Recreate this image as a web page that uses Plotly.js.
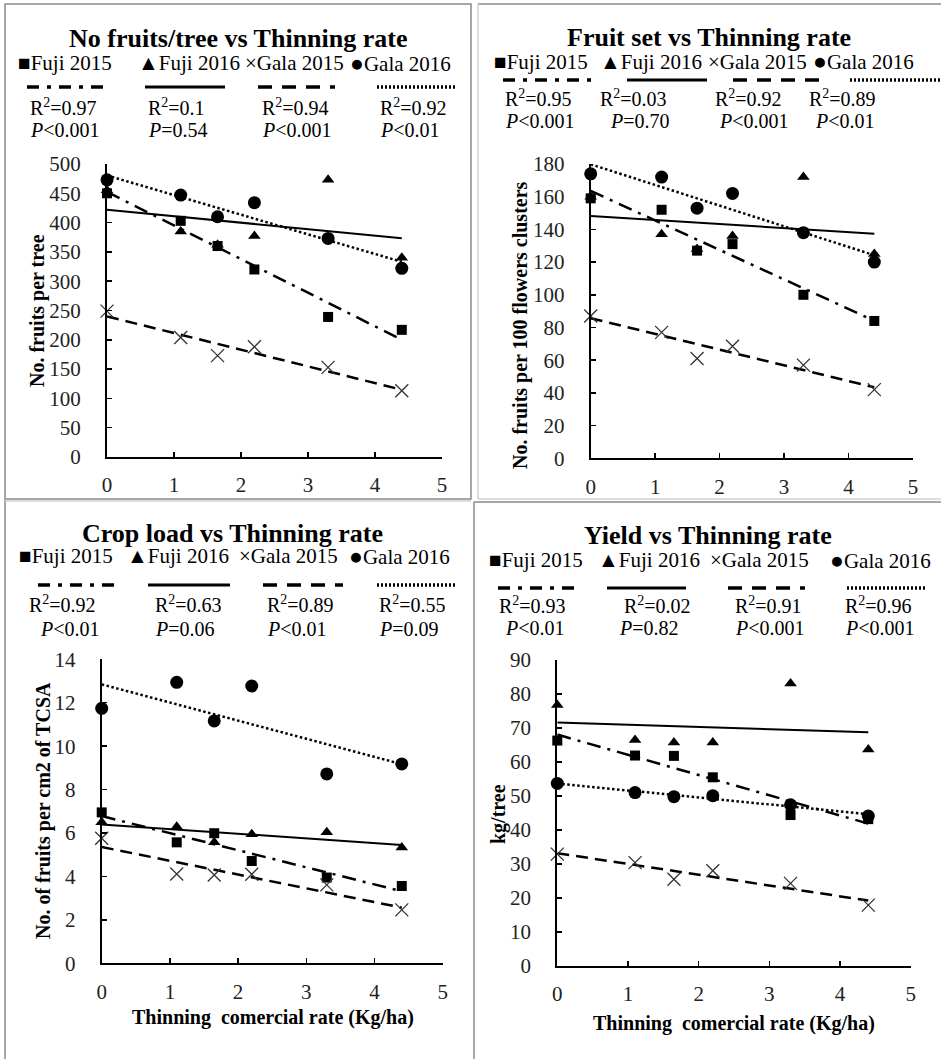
<!DOCTYPE html>
<html><head><meta charset="utf-8">
<script src="https://cdn.plot.ly/plotly-3.0.1.min.js"></script>
<style>html,body{margin:0;padding:0;background:#fff}#chart{width:941px;height:1059px}</style>
</head><body><div id="chart"></div>
<script>
// ---------- DATA ----------
const rates = [0, 1.1, 1.65, 2.2, 3.3, 4.4];
const seriesNames = ["Fuji 2015", "Fuji 2016", "Gala 2015", "Gala 2016"];
const panelTitles = ["No fruits/tree vs Thinning rate", "Fruit set vs Thinning rate", "Crop load vs Thinning rate", "Yield vs Thinning rate"];
const yTitles = ["No. fruits per tree", "No. fruits per 100 flowers clusters", "No. of fruits per cm2 of TCSA", "kg/tree"];
const xTitle = "Thinning  comercial rate (Kg/ha)";
const yMax = [500, 180, 14, 90];
const yStep = [50, 20, 2, 10];

// Panel 1: No fruits per tree
const fruitsFuji2015 = [450, 403, 360, 320, 239, 217];
const fruitsFuji2016 = [455, 385, 362, 377, 473, 340];
const fruitsGala2015 = [249, 204, 173, 188, 153, 113];
const fruitsGala2016 = [473, 447, 410, 434, 373, 322];
// Panel 2: fruit set
const setFuji2015 = [159, 152, 127, 131, 100, 84];
const setFuji2016 = [160, 137, 128, 136, 172, 125];
const setGala2015 = [87, 77, 61, 68.5, 57, 42];
const setGala2016 = [174, 172, 153, 162, 138, 120];
// Panel 3: crop load
const loadFuji2015 = [6.95, 5.57, 5.99, 4.71, 3.95, 3.56];
const loadFuji2016 = [6.49, 6.29, 5.57, 5.94, 6.03, 5.33];
const loadGala2015 = [5.76, 4.11, 4.07, 4.10, 3.61, 2.46];
const loadGala2016 = [11.74, 12.94, 11.16, 12.77, 8.72, 9.18];
// Panel 4: yield
const yieldFuji2015 = [66.3, 61.9, 61.8, 55.5, 44.4, 43.2];
const yieldFuji2016 = [76.8, 66.5, 65.7, 65.7, 83.1, 63.7];
const yieldGala2015 = [32.9, 30.4, 25.5, 28.0, 24.3, 17.9];
const yieldGala2016 = [53.7, 51.0, 49.8, 50.1, 47.4, 44.1];

// Statistics labels
const r2Fruits = ["0.97", "0.1", "0.94", "0.92"];
const pFruits = ["<0.001", "=0.54", "<0.001", "<0.01"];
const r2Set = ["0.95", "0.03", "0.92", "0.89"];
const pSet = ["<0.001", "=0.70", "<0.001", "<0.01"];
const r2Load = ["0.92", "0.63", "0.89", "0.55"];
const pLoad = ["<0.01", "=0.06", "<0.01", "=0.09"];
const r2Yield = ["0.93", "0.02", "0.91", "0.96"];
const pYield = ["<0.01", "=0.82", "<0.001", "<0.001"];

// ---------- LAYOUT ----------
const W = 941, H = 1059;
const px = x => x / W;
const py = y => 1 - y / H;
const SERIF = '"Liberation Serif", "Times New Roman", "DejaVu Serif", serif';

const panelData = [
  [fruitsFuji2015, fruitsFuji2016, fruitsGala2015, fruitsGala2016],
  [setFuji2015, setFuji2016, setGala2015, setGala2016],
  [loadFuji2015, loadFuji2016, loadGala2015, loadGala2016],
  [yieldFuji2015, yieldFuji2016, yieldGala2015, yieldGala2016]
];
const panelR2 = [r2Fruits, r2Set, r2Load, r2Yield];
const panelP = [pFruits, pSet, pLoad, pYield];

const geom = [
  { x0: 107, x1: 442, y0: 457, y1: 164, title: [238, 38], leg: 63, legX: [16, 136, 243, 348],
    line: 87, lines: [[27,108],[145,225],[258,335],[377,455]], r2y: 107, r2x: [28,146,260,378], py: 130, px: [28,146,260,378],
    yt: [37, 311], xt: null },
  { x0: 590.7, x1: 913, y0: 458.3, y1: 164, title: [709, 37], leg: 62, legX: [492, 598, 706, 811],
    line: 80, lines: [[503,592],[627,707],[733,819],[850,940]], r2y: 98, r2x: [503,598,713,807], py: 121, px: [503,608,717,813],
    yt: [520, 325], xt: null },
  { x0: 101.7, x1: 442.7, y0: 963.3, y1: 659.3, title: [232, 533], leg: 556, legX: [17, 125, 237, 347],
    line: 585, lines: [[38,118],[148,230],[263,343],[377,455]], r2y: 604, r2x: [27,153,265,377], py: 629, px: [38,153,265,377],
    yt: [43, 811], xt: [273, 1018] },
  { x0: 557.3, x1: 910.7, y0: 966, y1: 660, title: [708, 535], leg: 560, legX: [487, 596, 708, 828],
    line: 588, lines: [[498,578],[607,686],[728,805],[847,925]], r2y: 605, r2x: [497,622,733,843], py: 628, px: [503,617,733,843],
    yt: [498, 814], xt: [734, 1023] }
];

const symbols = [
  "<span style='font-size:21px'>\u25A0</span>",
  "<span style='font-size:21px'>\u25B2</span>",
  "\u00D7",
  "<span style='font-size:23px'>\u25CF</span>"
];
const markerStyles = [
  { symbol: "square", size: 10, color: "#000" },
  { symbol: "triangle-up", size: 11, color: "#000" },
  { symbol: "x-thin-open", size: 13, color: "#333", line: { color: "#333", width: 1.3 } },
  { symbol: "circle", size: 13, color: "#000" }
];
const lineStyles = [
  { color: "#000", width: 2.5, dash: "14px,7px,3px,7px" },
  { color: "#000", width: 2, dash: "solid" },
  { color: "#000", width: 2.5, dash: "12px,7px" },
  { color: "#000", width: 2.5, dash: "2.5px,2.5px" }
];

function linfit(xs, ys) {
  const n = xs.length;
  const mx = xs.reduce((a, b) => a + b, 0) / n;
  const my = ys.reduce((a, b) => a + b, 0) / n;
  let sxy = 0, sxx = 0;
  for (let i = 0; i < n; i++) { sxy += (xs[i] - mx) * (ys[i] - my); sxx += (xs[i] - mx) ** 2; }
  const b = sxy / sxx;
  return { a: my - b * mx, b };
}

const traces = [];
const annotations = [];
const shapes = [];
const layout = {
  width: W, height: H, margin: { l: 0, r: 0, t: 0, b: 0 },
  paper_bgcolor: "#fff", plot_bgcolor: "rgba(0,0,0,0)", showlegend: false,
  font: { family: SERIF, color: "#000" }
};

function ann(x, y, text, size, anchor, extra) {
  return Object.assign({ xref: "paper", yref: "paper", x: px(x), y: py(y), xanchor: anchor, yanchor: "middle",
    showarrow: false, text: text, font: { family: SERIF, size: size, color: "#000" } }, extra || {});
}

geom.forEach((g, p) => {
  const ax = p === 0 ? "" : String(p + 1);
  const xa = "x" + ax, ya = "y" + ax;
  const axCommon = {
    showline: true, linecolor: "#000", linewidth: 2, ticks: "inside", ticklen: 5, tickwidth: 1.5,
    tickcolor: "#000", showgrid: false, zeroline: false, fixedrange: true,
    tickfont: { family: SERIF, size: 21, color: "#222" }
  };
  layout["xaxis" + ax] = Object.assign({}, axCommon, {
    domain: [px(g.x0), px(g.x1)], range: [0, 5], dtick: 1, tick0: 0, anchor: ya, ticklabelstandoff: 8
  });
  layout["yaxis" + ax] = Object.assign({}, axCommon, {
    domain: [py(g.y0), py(g.y1)], range: [0, yMax[p]], dtick: yStep[p], tick0: 0, anchor: xa, ticklabelstandoff: 20
  });

  const xmin = Math.min(...rates), xmax = Math.max(...rates);
  panelData[p].forEach((vals, s) => {
    const f = linfit(rates, vals);
    traces.push({
      type: "scatter", mode: "lines", x: [xmin, xmax], y: [f.a + f.b * xmin, f.a + f.b * xmax],
      xaxis: xa, yaxis: ya, line: lineStyles[s], hoverinfo: "skip", cliponaxis: false
    });
  });
  panelData[p].forEach((vals, s) => {
    traces.push({
      type: "scatter", mode: "markers", x: rates, y: vals, name: seriesNames[s],
      xaxis: xa, yaxis: ya, marker: markerStyles[s], cliponaxis: false
    });
  });

  annotations.push(ann(g.title[0], g.title[1], "<b>" + panelTitles[p] + "</b>", 26, "center"));
  seriesNames.forEach((nm, s) => {
    annotations.push(ann(g.legX[s], g.leg, symbols[s] + nm, 21, "left"));
    shapes.push({ type: "line", xref: "paper", yref: "paper", x0: px(g.lines[s][0]), x1: px(g.lines[s][1]), y0: py(g.line), y1: py(g.line),
      line: { color: "#000", width: s === 1 ? 3 : 3.5, dash: s === 0 ? "12px,8px,4px,8px" : s === 1 ? "solid" : s === 2 ? "14px,10px" : "2px,2px" } });
    annotations.push(ann(g.r2x[s], g.r2y, "R<sup>2</sup>=" + panelR2[p][s], 20, "left"));
    annotations.push(ann(g.px[s], g.py, "<i>P</i>" + panelP[p][s].replace("<", "&lt;"), 20, "left"));
  });
  annotations.push(ann(g.yt[0], g.yt[1], "<b>" + yTitles[p] + "</b>", 20, "center", { textangle: -90 }));
  if (g.xt) annotations.push(ann(g.xt[0], g.xt[1], "<b>" + xTitle + "</b>", 20, "center"));
});

// Panel frames
const frame = { color: "#8a8a8a", width: 1.5 };
const light = { color: "#d0d0d0", width: 1.5 };
function seg(x0, y0, x1, y1, l) {
  return { type: "line", xref: "paper", yref: "paper", x0: x0, x1: x1, y0: y0, y1: y1, line: l };
}
shapes.push({ type: "rect", xref: "paper", yref: "paper", x0: px(5), x1: px(471), y0: py(499), y1: py(4), line: frame });
shapes.push(seg(px(478), py(4), 1, py(4), frame));
shapes.push(seg(px(478), py(4), px(478), py(499), light));
shapes.push(seg(px(478), py(499), 1, py(499), light));
shapes.push(seg(px(5), py(500), px(5), 0, frame));
shapes.push(seg(px(5), py(501), px(471), py(501), light));
shapes.push(seg(px(474), py(502), px(474), 0, frame));
shapes.push(seg(px(474), py(502), 1, py(502), frame));

layout.annotations = annotations;
layout.shapes = shapes;
Plotly.newPlot("chart", traces, layout, { staticPlot: true, displayModeBar: false });
</script>
</body></html>
